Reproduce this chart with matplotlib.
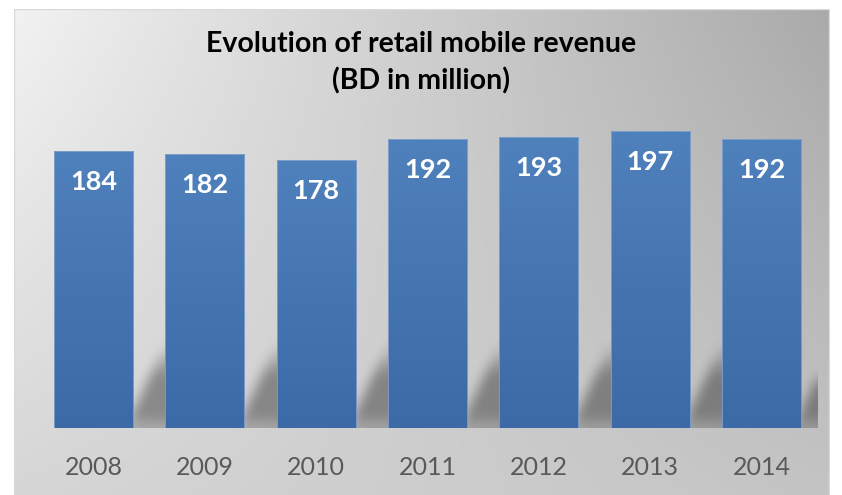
import numpy as np
import matplotlib
matplotlib.use("Agg")
import matplotlib.pyplot as plt
from matplotlib.patches import Rectangle

years = ["2008", "2009", "2010", "2011", "2012", "2013", "2014"]
revenue = [184, 182, 178, 192, 193, 197, 192]
title = "Evolution of retail mobile revenue\n(BD in million)"

W, H = 842, 495
fig = plt.figure(figsize=(W / 100, H / 100), dpi=100)
fig.patch.set_facecolor("white")

# background frame with gradient
bg = fig.add_axes([14 / W, 0, (830 - 14) / W, (495 - 9) / H])
bg.set_axis_off()
nx, ny = 200, 120
xx, yy = np.meshgrid(np.linspace(0, 1, nx), np.linspace(0, 1, ny))
TL, TR, BL, BR = 242, 170, 214, 196
v = (TL * (1 - xx) * (1 - yy) + TR * xx * (1 - yy) + BL * (1 - xx) * yy + BR * xx * yy) / 255
bg.imshow(np.dstack([v, v, v]), aspect="auto", extent=[0, 1, 1, 0], interpolation="bicubic")
bg.set_xlim(0, 1)
bg.set_ylim(1, 0)
bg.add_patch(Rectangle((0.0005, 0.001), 0.998, 1.2, fill=False, edgecolor="#d9d9d9", lw=1.0))

# data axes
scale = 1.506  # px per unit
bottom_px = 428
top_px = 100
ymax = (bottom_px - top_px) / scale
x0_px, x1_px = 37.8, 817.2
ax = fig.add_axes([x0_px / W, (H - bottom_px) / H, (x1_px - x0_px) / W, (bottom_px - top_px) / H])
ax.set_facecolor("none")
ax.set_xlim(-0.5, len(years) - 0.5)
ax.set_ylim(0, ymax)
for s in ax.spines.values():
    s.set_visible(False)
ax.set_yticks([])
x = np.arange(len(years))
ax.set_xticks(x)
ax.set_xticklabels(years, fontsize=18, color="#595959", family="Lato")
ax.tick_params(axis="x", length=0, pad=20)

bw = 0.71

# shadows: each bar casts a perspective shadow to the right (one slot over), blurred
gx, gy = 800, 340
sx = np.linspace(-0.5, len(years) - 0.5, gx)
sy = np.linspace(0, ymax, gy)
SX, SY = np.meshgrid(sx, sy)
mask = np.zeros_like(SX)
shadow_h = 57.0
d0 = 0.36
for i in range(len(years)):
    c = i + 1
    d = d0 * np.clip(1 - SY / shadow_h, 0, 1)
    inside = (SX >= c - bw / 2 - d) & (SX <= c + bw / 2 - d) & (SY <= shadow_h)
    ramp_up = np.clip(SY / 8.0, 0, 1) * 0.5 + 0.5
    fade = np.clip((1 - SY / shadow_h) / 0.4, 0, 1)
    mask = np.maximum(mask, inside * ramp_up * fade)

def blur(a, r, axis):
    cs = np.cumsum(np.pad(a, [(r + 1, r) if ax_ == axis else (0, 0) for ax_ in range(2)], mode="edge"), axis=axis)
    if axis == 1:
        return (cs[:, 2 * r + 1:] - cs[:, :-2 * r - 1]) / (2 * r + 1)
    return (cs[2 * r + 1:, :] - cs[:-2 * r - 1, :]) / (2 * r + 1)

for _ in range(3):
    mask = blur(mask, 5, 1)
    mask = blur(mask, 5, 0)
rgba = np.zeros((gy, gx, 4))
rgba[..., 3] = mask * 0.36
ax.imshow(rgba, extent=[-0.5, len(years) - 0.5, 0, ymax], origin="lower", aspect="auto", zorder=1, interpolation="bilinear")

# bars with gradient
bars = ax.bar(x, revenue, width=bw, color="#4a7aba", zorder=2, linewidth=0)
grad = np.linspace(0, 1, 256).reshape(-1, 1)
top_c = np.array([79, 129, 189]) / 255
bot_c = np.array([60, 106, 166]) / 255
gimg = grad[..., None] * top_c + (1 - grad[..., None]) * bot_c
for b in bars:
    bx = b.get_x()
    im = ax.imshow(gimg, extent=[bx, bx + b.get_width(), 0, b.get_height()], origin="lower",
                   aspect="auto", zorder=3, interpolation="bilinear")
    im.set_clip_path(b)
    ax.add_patch(Rectangle((bx, 0), b.get_width(), b.get_height(), fill=False,
                           edgecolor="#8aa6cc", lw=0.7, alpha=0.8, zorder=4))

for xi, val in zip(x, revenue):
    ax.annotate(str(val), (xi, val), xytext=(0, -31), textcoords="offset pixels",
                ha="center", va="center", color="white", fontsize=19.5, fontweight="bold",
                family="Lato", zorder=5)

ax.set_xlim(-0.5, len(years) - 0.5)
ax.set_ylim(0, ymax)

fig.text(0.5, (H - 63) / H, title, ha="center", va="center", fontsize=20.5, fontweight="bold",
         family="Lato", color="black", linespacing=1.45)

fig.savefig("out.png", dpi=100)
